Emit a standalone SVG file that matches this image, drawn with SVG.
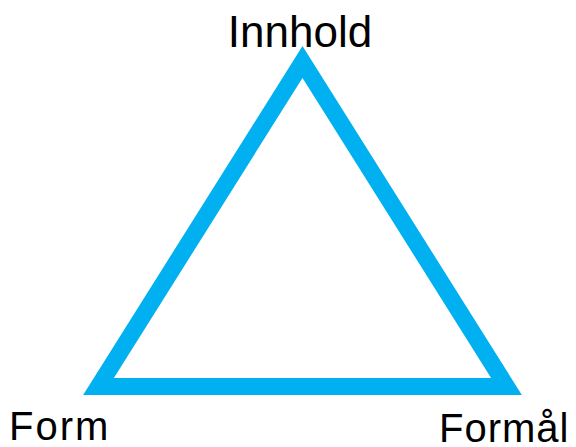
<svg xmlns="http://www.w3.org/2000/svg" width="576" height="447" viewBox="0 0 576 447">
  <style>
    .lbl { font-family: "Liberation Sans", Arial, sans-serif; fill: #000000; }
    .tri { fill: none; stroke: #00B0F0; stroke-width: 17; stroke-linejoin: miter; stroke-miterlimit: 10; }
  </style>
  <rect width="576" height="447" fill="#FFFFFF"/>
  <g id="connectors">
    <polygon class="tri" points="302.5,62 98.5,386.5 506.5,386.5"/>
  </g>
  <g id="node-innhold">
    <text class="lbl" x="300" y="47" font-size="44" text-anchor="middle">Innhold</text>
  </g>
  <g id="node-form">
    <text class="lbl" x="9" y="440" font-size="40" letter-spacing="2">Form</text>
  </g>
  <g id="node-formal">
    <text class="lbl" x="439" y="442" font-size="40" letter-spacing="1">Formål</text>
  </g>
</svg>
